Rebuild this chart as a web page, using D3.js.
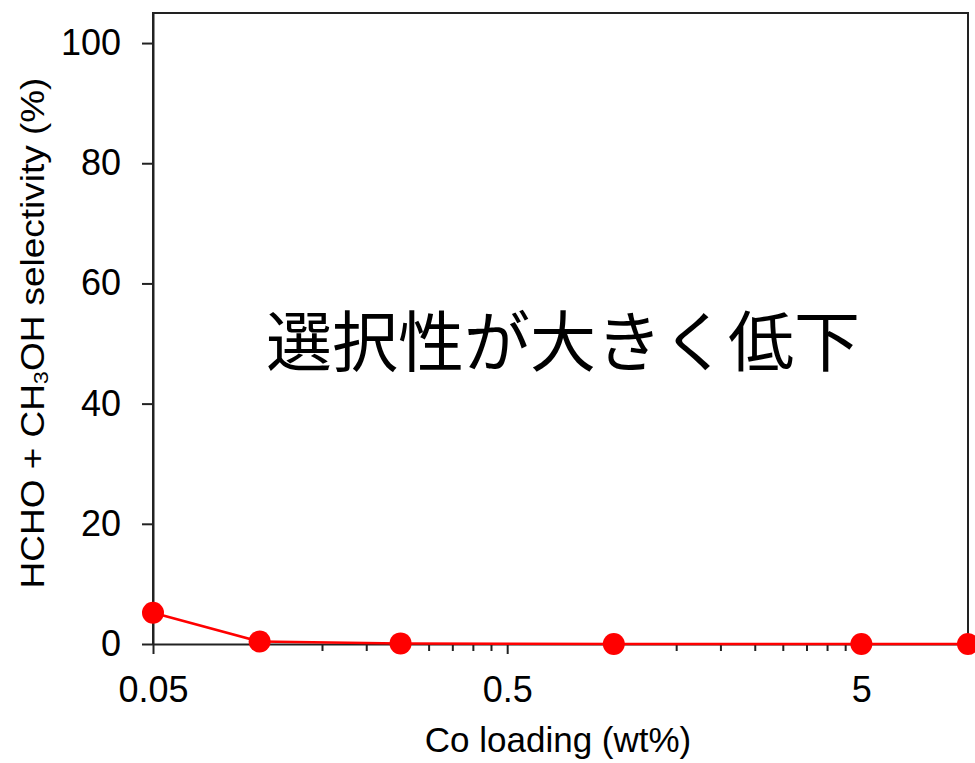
<!DOCTYPE html>
<html>
<head>
<meta charset="utf-8">
<script src="https://cdn.jsdelivr.net/npm/d3@7"></script>
<style>
  html, body { margin: 0; padding: 0; background: #fff; }
  svg { display: block; }
</style>
</head>
<body>
<svg id="chart" width="975" height="763"></svg>
<script>
// Co loading (wt%) and HCHO + CH3OH selectivity (%)
const loading = [0.05, 0.1, 0.25, 1, 5, 10];
const selectivity = [5.2, 0.4, 0.1, 0.0, 0.0, 0.0];
const yTicks = [0, 20, 40, 60, 80, 100];
const xMajorTicks = [0.05, 0.5, 5];
const xTickLabels = ["0.05", "0.5", "5"];
const xMinorMultipliers = [2, 3, 4, 5, 6, 7, 8, 9];
const annotation = "選択性が大きく低下";

const latin = "Liberation Sans, Arial, sans-serif";
const svg = d3.select("#chart");
const plotLeft = 153, plotRight = 968, plotTop = 13, plotBottom = 644;

const x = d3.scaleLog().domain([0.05, 10]).range([plotLeft, plotRight]);
const y = d3.scaleLinear().domain([0, 105]).range([plotBottom, plotTop]);

const axisColor = "#222";

// plot frame: top and right edges
svg.append("path")
  .attr("d", `M${plotLeft},${plotBottom} V${plotTop} H${plotRight} V${plotBottom}`)
  .attr("fill", "none").attr("stroke", axisColor).attr("stroke-width", 2);

// y axis
const yAxis = svg.append("g")
  .attr("transform", `translate(${plotLeft},0)`)
  .call(d3.axisLeft(y).tickValues(yTicks).tickSize(11).tickPadding(21).tickSizeOuter(0));
yAxis.select(".domain").attr("stroke", axisColor).attr("stroke-width", 2);
yAxis.selectAll(".tick line").attr("stroke", axisColor).attr("stroke-width", 2);
yAxis.selectAll(".tick text")
  .attr("font-size", 36).attr("font-family", latin).attr("fill", "#000");

// x axis: minor ticks at 2..9 times each decade start
const minor = [];
xMajorTicks.forEach(m => xMinorMultipliers.forEach(k => {
  const v = +(m * k).toPrecision(6);
  if (v <= 10) minor.push(v);
}));

const xAxisMinor = svg.append("g")
  .attr("transform", `translate(0,${plotBottom})`)
  .call(d3.axisBottom(x).tickValues(minor).tickSize(7).tickFormat(""));
xAxisMinor.select(".domain").remove();
xAxisMinor.selectAll(".tick line").attr("stroke", axisColor).attr("stroke-width", 2);

const xAxis = svg.append("g")
  .attr("transform", `translate(0,${plotBottom})`)
  .call(d3.axisBottom(x).tickValues(xMajorTicks).tickSize(10).tickPadding(22).tickSizeOuter(0)
    .tickFormat((d, i) => xTickLabels[i]));
xAxis.select(".domain").attr("stroke", axisColor).attr("stroke-width", 2);
xAxis.selectAll(".tick line").attr("stroke", axisColor).attr("stroke-width", 2);
xAxis.selectAll(".tick text")
  .attr("font-size", 36).attr("font-family", latin).attr("fill", "#000");

// axis titles
svg.append("text")
  .attr("x", 558).attr("y", 752)
  .attr("text-anchor", "middle").attr("font-size", 35).attr("font-family", latin)
  .text("Co loading (wt%)");

const yt = svg.append("text")
  .attr("transform", `translate(44,333) rotate(-90) scale(1.12,1)`)
  .attr("text-anchor", "middle").attr("font-size", 33).attr("font-family", latin);
yt.append("tspan").text("HCHO + CH");
yt.append("tspan").attr("font-size", 21).attr("dy", 4).text("3");
yt.append("tspan").attr("dy", -4).text("OH selectivity (%)");

// data line and markers
const data = loading.map((v, i) => ({ x: v, y: selectivity[i] }));
svg.append("path")
  .datum(data)
  .attr("fill", "none").attr("stroke", "#ff0000").attr("stroke-width", 2.5)
  .attr("d", d3.line().x(d => x(d.x)).y(d => y(d.y)));
svg.append("g").selectAll("circle")
  .data(data).join("circle")
  .attr("cx", d => x(d.x)).attr("cy", d => y(d.y)).attr("r", 11)
  .attr("fill", "#ff0000");

// annotation
svg.append("text")
  .attr("x", 563).attr("y", 366)
  .attr("text-anchor", "middle")
  .attr("font-family", "Noto Sans CJK JP, sans-serif")
  .attr("font-size", 66)
  .text(annotation);
</script>
</body>
</html>
